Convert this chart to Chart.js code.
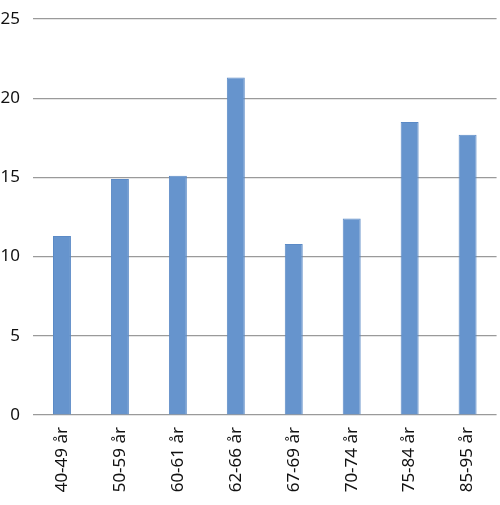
<!DOCTYPE html>
<html>
<head>
<meta charset="utf-8">
<script src="https://cdn.jsdelivr.net/npm/chart.js@4"></script>
<style>
  html, body { margin: 0; padding: 0; background: #fff; }
  #wrap { width: 500px; height: 505px; }
</style>
</head>
<body>
<div id="wrap"><canvas id="aldersgrupper"></canvas></div>
<script>
const categories = ["40-49 år", "50-59 år", "60-61 år", "62-66 år", "67-69 år", "70-74 år", "75-84 år", "85-95 år"];
const values = [11.3, 14.9, 15.1, 21.3, 10.8, 12.4, 18.5, 17.7];
const yTicks = [0, 5, 10, 15, 20, 25];

new Chart(document.getElementById("aldersgrupper"), {
    type: 'bar',
    data: {
        labels: categories,
        datasets: [{
            data: values,
            backgroundColor: "#6694CD",
            borderColor: "#5B8AC6",
            borderWidth: 1,
            categoryPercentage: 1,
            barPercentage: 0.31
        }]
    },
    options: {
        responsive: true,
        maintainAspectRatio: false,
        animation: false,
        layout: { padding: { top: 19, right: 0, left: 0, bottom: 0 } },
        plugins: {
            legend: { display: false },
            title: { display: false },
            tooltip: { enabled: false }
        },
        scales: {
            x: {
                grid: { display: false, drawTicks: false },
                border: { display: false },
                afterFit: scale => { scale.height = 90; },
                ticks: {
                    color: "#111",
                    font: { family: "Noto Sans", size: 17 },
                    maxRotation: 90,
                    minRotation: 90,
                    padding: 12
                }
            },
            y: {
                min: 0,
                max: 25,
                afterFit: scale => {
                    scale.width = 33;
                    scale.paddingTop = 0;
                    scale.paddingBottom = 0;
                },
                afterBuildTicks: scale => { scale.ticks = yTicks.map(v => ({ value: v })); },
                grid: { color: "#9a9a9a", lineWidth: 1.2, drawTicks: false },
                border: { display: false },
                ticks: {
                    color: "#111",
                    font: { family: "Noto Sans", size: 17 },
                    padding: 13
                }
            }
        }
    }
});
</script>
</body>
</html>
